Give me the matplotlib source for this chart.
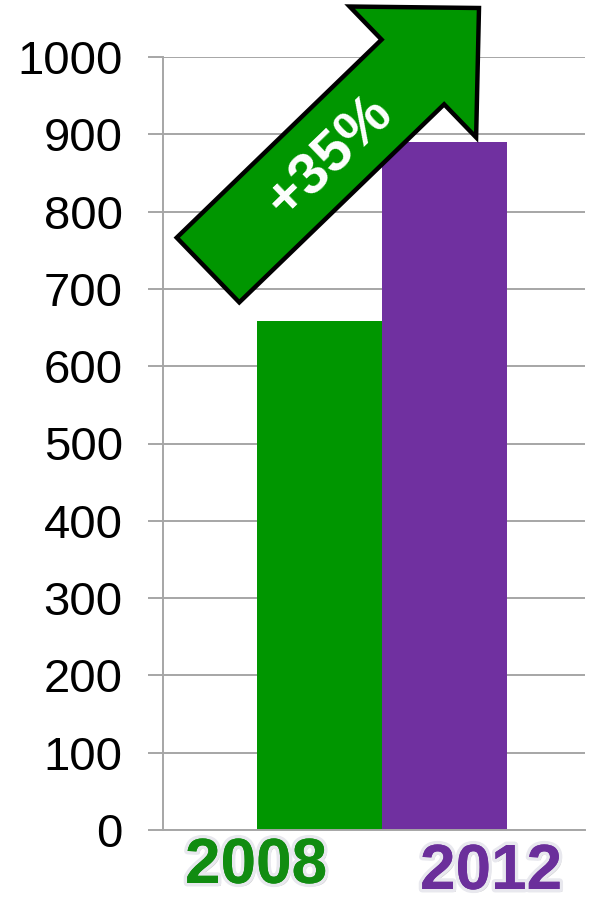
import numpy as np
import matplotlib
matplotlib.use("Agg")
import matplotlib.pyplot as plt
from matplotlib.patches import Polygon
import matplotlib.patheffects as pe

years = ["2008", "2012"]
values = [658, 890]
bar_colors = ["#009600", "#7030A0"]
text_colors = ["#118c11", "#6b2f9b"]
yticks = list(range(0, 1001, 100))
growth_label = "+35%"

W, H = 591, 902
fig = plt.figure(figsize=(W / 100, H / 100), dpi=100)
ax = fig.add_axes([163 / W, 1 - 830 / H, (585 - 163) / W, (830 - 57) / H])

x = np.arange(len(years))
ax.bar(x, values, width=1.0, color=bar_colors, zorder=2)
ax.set_xlim(-1.248, 2.128)
ax.set_ylim(0, 1000)
ax.set_yticks(yticks)
ax.set_yticklabels([str(v) for v in yticks], fontsize=34, family="Liberation Sans")
ax.set_xticks([])
ax.grid(axis="y", color="#a6a6a6", linewidth=1.4, zorder=0)
ax.tick_params(axis="y", length=11, width=1.4, color="#a6a6a6", pad=18)
for s in ["top", "right"]:
    ax.spines[s].set_visible(False)
for s in ["left", "bottom"]:
    ax.spines[s].set_color("#a6a6a6")
    ax.spines[s].set_linewidth(1.4)

# year labels under the bars (placed like WordArt)
label_pos = [(256, 866), (491, 872)]
for (px, py), lab, c in zip(label_pos, years, text_colors):
    fig.text(px / W, 1 - py / H, lab, color=c, fontsize=46, fontweight="bold",
             family="Liberation Sans", ha="center", va="center",
             path_effects=[pe.withSimplePatchShadow(offset=(2, -2), shadow_rgbFace="#999999", alpha=0.5),
                           pe.withStroke(linewidth=5, foreground="#e8e8ee"),
                           pe.Normal()])


# growth arrow, built in pixel space then converted to figure fraction
def arrow_pts(tail, tip, shaft_w, head_w, head_len):
    tail = np.array(tail, float)
    tip = np.array(tip, float)
    d = tip - tail
    L = np.hypot(*d)
    u = d / L
    n = np.array([-u[1], u[0]])
    base = tip - u * head_len
    pts = [tail + n * shaft_w / 2, base + n * shaft_w / 2, base + n * head_w / 2, tip,
           base - n * head_w / 2, base - n * shaft_w / 2, tail - n * shaft_w / 2]
    return np.array([[p[0] / W, 1 - p[1] / H] for p in pts])


pts = arrow_pts((208, 270), (479, 8), 90, 182, 92)
arrow = Polygon(pts, closed=True, facecolor="#009600", edgecolor="black", linewidth=3.2,
                joinstyle="miter", transform=fig.transFigure, zorder=5)
fig.patches.append(arrow)
fig.text(330 / W, 1 - 157 / H, growth_label, color="white", fontsize=42, fontweight="bold",
         family="Liberation Sans", rotation=44, ha="center", va="center",
         rotation_mode="anchor", zorder=6)

fig.savefig("out.png", dpi=100)
